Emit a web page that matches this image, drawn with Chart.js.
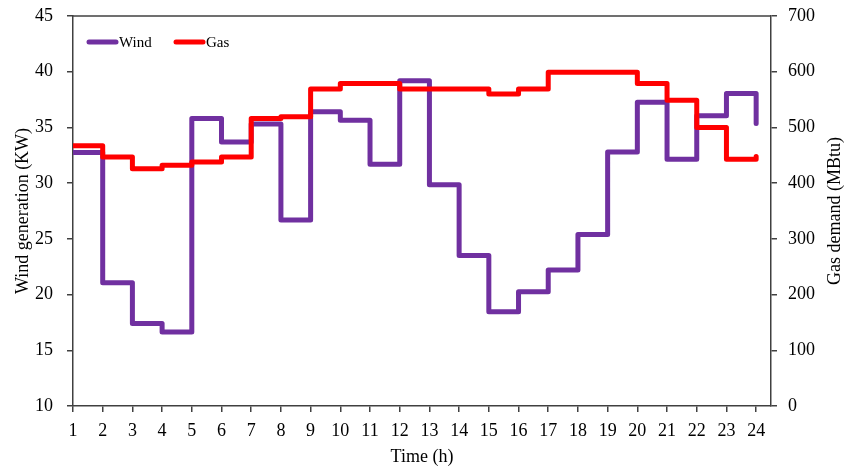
<!DOCTYPE html>
<html>
<head>
<meta charset="utf-8">
<script src="https://cdn.jsdelivr.net/npm/chart.js@4"></script>
<style>
    html, body { margin: 0; padding: 0; background: #fff; }
    #wrap { width: 861px; height: 468px; position: relative; }
</style>
</head>
<body>
<div id="wrap"><canvas id="chart"></canvas></div>
<script>
// hours and values (value at hour h holds until h+1, last point is the end)
const hours = [1, 2, 3, 4, 5, 6, 7, 8, 9, 10, 11, 12, 13, 14, 15, 16, 17, 18, 19, 20, 21, 22, 23, 24];
const windValues = [32.75, 21.05, 17.4, 16.65, 35.8, 33.7, 35.3, 26.7, 36.4, 35.65, 31.7, 39.2,
    29.85, 23.5, 18.45, 20.25, 22.2, 25.4, 32.8, 37.25, 32.15, 36.05, 38.05, 35.35];
const gasValues = [467, 447, 426, 432, 438, 447, 516, 519, 569, 579, 579, 569,
    569, 569, 560, 569, 599, 599, 599, 579, 549, 500, 443, 448];
const windTicks = [10, 15, 20, 25, 30, 35, 40, 45];
const gasTicks = [0, 100, 200, 300, 400, 500, 600, 700];

const axisColor = '#404040';
const serif = '"Liberation Serif", "Times New Roman", serif';

Chart.defaults.font.family = serif;
Chart.defaults.font.size = 18;
Chart.defaults.color = '#000';

// top border, inline legend, right axis title (reads bottom-to-top)
const framePlugin = {
    id: 'frame',
    afterDraw(chart) {
        const { ctx, chartArea } = chart;
        ctx.save();
        ctx.strokeStyle = axisColor;
        ctx.lineWidth = 1.5;
        ctx.beginPath();
        ctx.moveTo(chartArea.left, chartArea.top);
        ctx.lineTo(chartArea.right, chartArea.top);
        ctx.stroke();

        // legend
        let x = chartArea.left + 14;
        const y = 42;
        ctx.font = '15px ' + serif;
        ctx.textBaseline = 'middle';
        ctx.textAlign = 'left';
        ctx.lineCap = 'round';
        chart.data.datasets.forEach(ds => {
            ctx.strokeStyle = ds.borderColor;
            ctx.lineWidth = 5;
            ctx.beginPath();
            ctx.moveTo(x + 2, y);
            ctx.lineTo(x + 29, y);
            ctx.stroke();
            ctx.fillStyle = '#000';
            ctx.fillText(ds.label, x + 32, y + 1);
            x += 87;
        });

        ctx.translate(835, (chartArea.top + chartArea.bottom) / 2);
        ctx.rotate(-Math.PI / 2);
        ctx.fillStyle = '#000';
        ctx.font = '18px ' + serif;
        ctx.textAlign = 'center';
        ctx.textBaseline = 'middle';
        ctx.fillText('Gas demand (MBtu)', 0, 0);
        ctx.restore();
    }
};

function fitVertical(width) {
    return axis => {
        axis.width = width;
        axis.paddingTop = 0;
        axis.paddingBottom = 0;
    };
}

const ctx = document.getElementById('chart').getContext('2d');
new Chart(ctx, {
    type: 'line',
    data: {
        datasets: [{
            label: 'Wind',
            data: hours.map((h, i) => ({ x: h, y: windValues[i] })),
            yAxisID: 'y',
            borderColor: '#7030A0',
            borderWidth: 5,
            stepped: true,
            pointRadius: 0,
            borderCapStyle: 'round',
            borderJoinStyle: 'round',
            order: 1
        }, {
            label: 'Gas',
            data: hours.map((h, i) => ({ x: h, y: gasValues[i] })),
            yAxisID: 'y2',
            borderColor: '#FF0000',
            borderWidth: 5,
            stepped: true,
            pointRadius: 0,
            borderCapStyle: 'round',
            borderJoinStyle: 'round',
            order: 0
        }]
    },
    options: {
        responsive: true,
        maintainAspectRatio: false,
        animation: false,
        layout: { padding: { top: 16, left: 0, right: 0, bottom: 0 } },
        plugins: {
            legend: { display: false },
            tooltip: { enabled: false }
        },
        scales: {
            x: {
                type: 'linear',
                min: 1,
                max: 24.5,
                afterBuildTicks: axis => { axis.ticks = hours.map(v => ({ value: v })); },
                afterFit: axis => { axis.height = 62; axis.paddingLeft = 0; axis.paddingRight = 0; },
                ticks: { padding: 8, maxRotation: 0, autoSkip: false },
                grid: { drawOnChartArea: false, tickLength: 6, color: axisColor, lineWidth: 1.5 },
                border: { color: axisColor, width: 1.5 },
                title: { display: true, text: 'Time (h)', padding: { top: 0, bottom: 0 } }
            },
            y: {
                position: 'left',
                min: 10,
                max: 45,
                afterBuildTicks: axis => { axis.ticks = windTicks.map(v => ({ value: v })); },
                afterFit: fitVertical(73),
                ticks: { padding: 14 },
                grid: { drawOnChartArea: false, tickLength: 6, color: axisColor, lineWidth: 1.5 },
                border: { color: axisColor, width: 1.5 },
                title: { display: true, text: 'Wind generation (KW)', padding: { top: 12, bottom: 0 } }
            },
            y2: {
                position: 'right',
                min: 0,
                max: 700,
                afterBuildTicks: axis => { axis.ticks = gasTicks.map(v => ({ value: v })); },
                afterFit: fitVertical(90),
                ticks: { padding: 11 },
                grid: { drawOnChartArea: false, tickLength: 6, color: axisColor, lineWidth: 1.5 },
                border: { color: axisColor, width: 1.5 }
            }
        }
    },
    plugins: [framePlugin]
});
</script>
</body>
</html>
